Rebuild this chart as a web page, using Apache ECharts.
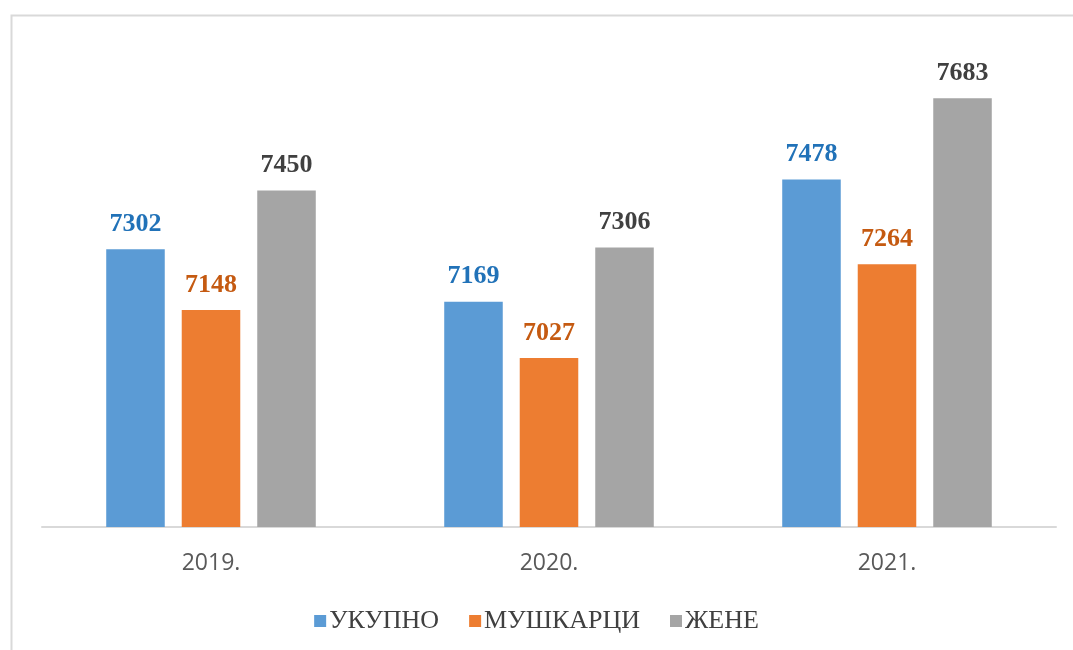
<!DOCTYPE html>
<html>
<head>
<meta charset="utf-8">
<script src="https://cdn.jsdelivr.net/npm/echarts@6/dist/echarts.min.js"></script>
<style>
  html, body { margin: 0; padding: 0; background: #ffffff; }
  #chart { width: 1073px; height: 650px; }
</style>
</head>
<body>
<div id="chart"></div>
<script>
// Years shown on the category axis
const years = ['2019.', '2020.', '2021.'];

// Series values per year
const ukupno = [7302, 7169, 7478];
const muskarci = [7148, 7027, 7264];
const zene = [7450, 7306, 7683];

// Legend names
const seriesNames = ['УКУПНО', 'МУШКАРЦИ', 'ЖЕНЕ'];

const barColors = ['#5B9BD5', '#ED7D31', '#A5A5A5'];
const labelColors = ['#2172B8', '#C55A11', '#404040'];

function barSeries(name, data, idx) {
  return {
    name: name,
    type: 'bar',
    data: data,
    barGap: '29%',
    barCategoryGap: '38%',
    itemStyle: { color: barColors[idx] },
    label: {
      show: true,
      position: 'top',
      distance: 12,
      color: labelColors[idx],
      fontFamily: '"Liberation Serif", "DejaVu Serif", serif',
      fontWeight: 'bold',
      fontSize: 26
    }
  };
}

const chart = echarts.init(document.getElementById('chart'), null, { renderer: 'canvas' });

chart.setOption({
  backgroundColor: '#ffffff',
  animation: false,
  graphic: [{
    type: 'rect',
    left: 9,
    top: 13,
    shape: { width: 1100, height: 700 },
    style: { fill: 'none', stroke: '#d9d9d9', lineWidth: 2 },
    z: -1
  }],
  grid: { left: 42, right: 17, top: 52, bottom: 123, containLabel: false },
  legend: {
    data: seriesNames,
    bottom: 11,
    left: 'center',
    icon: 'rect',
    itemWidth: 12,
    itemHeight: 12,
    itemGap: 30,
    textStyle: {
      fontFamily: '"Liberation Serif", "DejaVu Serif", serif',
      fontSize: 26,
      color: '#404040',
      padding: [0, 0, 0, -2]
    }
  },
  xAxis: {
    type: 'category',
    data: years,
    axisLine: { lineStyle: { color: '#d9d9d9', width: 2 } },
    axisTick: { show: false },
    axisLabel: {
      margin: 25,
      color: '#595959',
      fontFamily: '"Open Sans", "Liberation Sans", sans-serif',
      fontSize: 23
    }
  },
  yAxis: {
    type: 'value',
    min: 6600,
    max: 7800,
    show: false,
    splitLine: { show: false }
  },
  series: [
    barSeries(seriesNames[0], ukupno, 0),
    barSeries(seriesNames[1], muskarci, 1),
    barSeries(seriesNames[2], zene, 2)
  ]
});
</script>
</body>
</html>
